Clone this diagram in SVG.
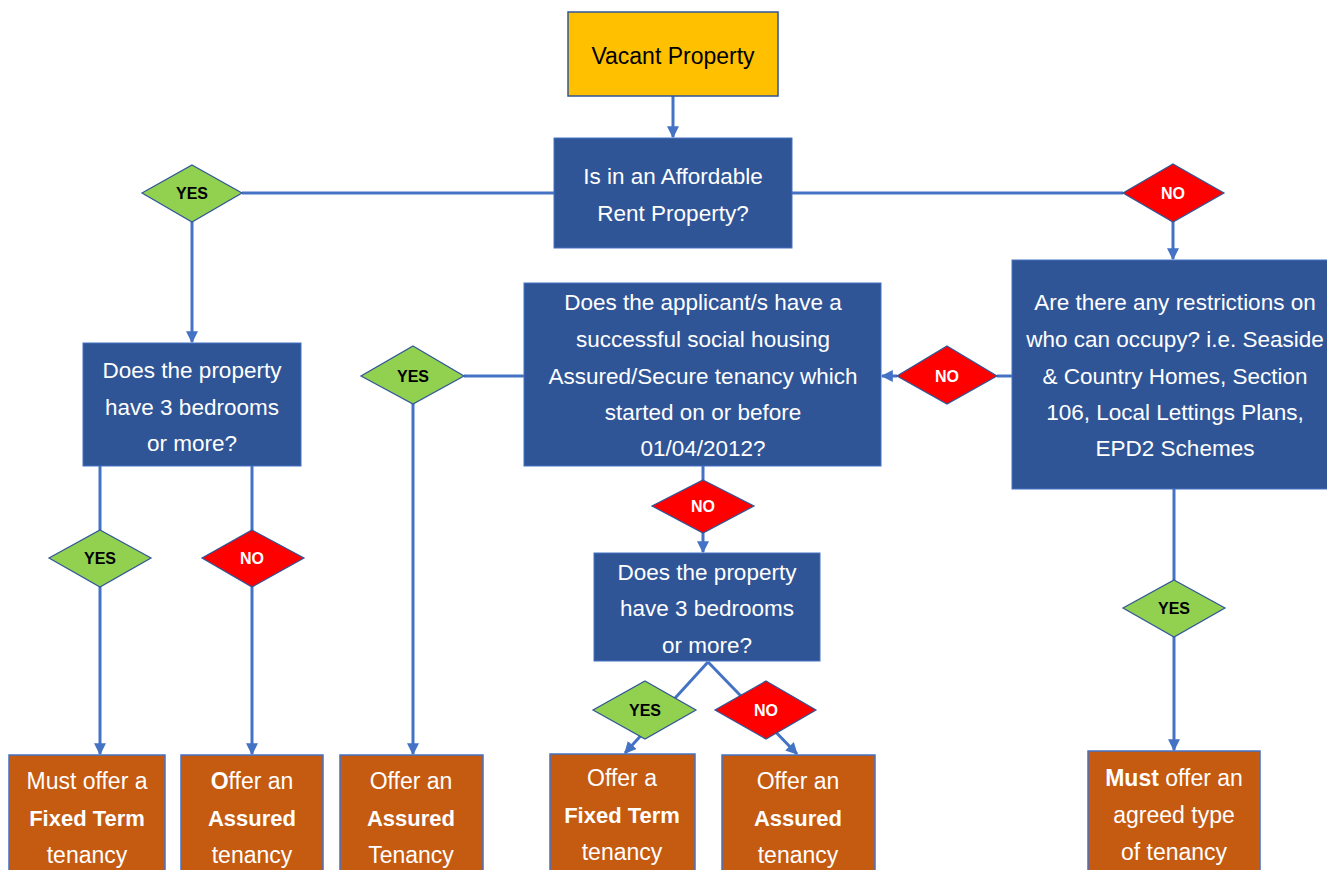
<svg xmlns="http://www.w3.org/2000/svg" width="1327" height="870" viewBox="0 0 1327 870">
<defs>
<marker id="arr" viewBox="0 0 10 10" refX="9" refY="5" markerWidth="4" markerHeight="4" orient="auto" markerUnits="strokeWidth">
<path d="M0,0 L10,5 L0,10 z" fill="#4472C4"/>
</marker>
<style>
.con{stroke:#4472C4;stroke-width:3;fill:none}
.q{fill:#2F5597;stroke:#4472C4;stroke-width:1}
.st{fill:#FFC000;stroke:#2F5597;stroke-width:1.5}
.out{fill:#C55A11;stroke:#4472C4;stroke-width:1.5}
.yes{fill:#92D050;stroke:#2F5597;stroke-width:1.2}
.no{fill:#FF0000;stroke:#2F5597;stroke-width:1.2}
text{font-family:"Liberation Sans",Arial,sans-serif;text-anchor:middle}
.qt{fill:#FFFFFF;font-size:22.5px}
.ot{fill:#FFFFFF;font-size:23px}
.b{font-weight:bold;font-size:22px}
.dy{fill:#000000;font-size:16px;font-weight:bold}
.dn{fill:#FFFFFF;font-size:16px;font-weight:bold}
</style>
</defs>
<rect width="1327" height="870" fill="#FFFFFF"/>

<g id="connectors">
<line class="con" x1="673" y1="96" x2="673" y2="137" marker-end="url(#arr)"/>
<line class="con" x1="554" y1="193" x2="242" y2="193"/>
<line class="con" x1="792" y1="193" x2="1123" y2="193"/>
<line class="con" x1="192" y1="222" x2="192" y2="342" marker-end="url(#arr)"/>
<line class="con" x1="1173" y1="222" x2="1173" y2="259" marker-end="url(#arr)"/>
<line class="con" x1="100" y1="466" x2="100" y2="530"/>
<line class="con" x1="100" y1="587" x2="100" y2="754" marker-end="url(#arr)"/>
<line class="con" x1="252" y1="466" x2="252" y2="530"/>
<line class="con" x1="252" y1="587" x2="252" y2="754" marker-end="url(#arr)"/>
<line class="con" x1="524" y1="376" x2="464" y2="376"/>
<line class="con" x1="413" y1="404" x2="413" y2="754" marker-end="url(#arr)"/>
<line class="con" x1="1012" y1="376" x2="997" y2="376"/>
<line class="con" x1="897" y1="376" x2="882" y2="376" marker-end="url(#arr)"/>
<line class="con" x1="703" y1="466" x2="703" y2="480"/>
<line class="con" x1="703" y1="533" x2="703" y2="552" marker-end="url(#arr)"/>
<line class="con" x1="1174" y1="489" x2="1174" y2="580"/>
<line class="con" x1="1174" y1="637" x2="1174" y2="750" marker-end="url(#arr)"/>
<line class="con" x1="708" y1="662" x2="625" y2="753" marker-end="url(#arr)"/>
<line class="con" x1="708" y1="662" x2="797" y2="754" marker-end="url(#arr)"/>
</g>

<g id="vacant">
<rect class="st" x="568" y="12" width="210" height="84"/>
<text x="673" y="64" style="font-size:23px;fill:#000000">Vacant Property</text>
</g>

<g id="affordable">
<rect class="q" x="554" y="138" width="238" height="110"/>
<text class="qt" x="673" y="184">Is in an Affordable</text>
<text class="qt" x="673" y="221">Rent Property?</text>
</g>

<g id="yes1">
<polygon class="yes" points="192,165 242,193 192,222 142,193"/>
<text class="dy" x="192" y="199">YES</text>
</g>

<g id="no1">
<polygon class="no" points="1173,164 1224,193 1173,222 1123,193"/>
<text class="dn" x="1173" y="199">NO</text>
</g>

<g id="bedrooms1">
<rect class="q" x="83" y="343" width="218" height="123"/>
<text class="qt" x="192" y="378">Does the property</text>
<text class="qt" x="192" y="415">have 3 bedrooms</text>
<text class="qt" x="192" y="451">or more?</text>
</g>

<g id="yes2">
<polygon class="yes" points="100,530 151,558 100,587 49,558"/>
<text class="dy" x="100" y="564">YES</text>
</g>

<g id="no2">
<polygon class="no" points="252,530 304,558 252,587 202,558"/>
<text class="dn" x="252" y="564">NO</text>
</g>

<g id="yes3">
<polygon class="yes" points="413,346 464,376 413,404 361,376"/>
<text class="dy" x="413" y="382">YES</text>
</g>

<g id="applicant">
<rect class="q" x="524" y="283" width="357" height="183"/>
<text class="qt" x="703" y="310">Does the applicant/s have a</text>
<text class="qt" x="703" y="347">successful social housing</text>
<text class="qt" x="703" y="384">Assured/Secure tenancy which</text>
<text class="qt" x="703" y="420">started on or before</text>
<text class="qt" x="703" y="456">01/04/2012?</text>
</g>

<g id="no3">
<polygon class="no" points="947,346 997,376 947,404 897,376"/>
<text class="dn" x="947" y="382">NO</text>
</g>

<g id="restrictions">
<rect class="q" x="1012" y="260" width="326" height="229"/>
<text class="qt" x="1175" y="310">Are there any restrictions on</text>
<text class="qt" x="1175" y="347">who can occupy? i.e. Seaside</text>
<text class="qt" x="1175" y="384">&amp; Country Homes, Section</text>
<text class="qt" x="1175" y="420">106, Local Lettings Plans,</text>
<text class="qt" x="1175" y="456">EPD2 Schemes</text>
</g>

<g id="no4">
<polygon class="no" points="703,480 754,506 703,533 652,506"/>
<text class="dn" x="703" y="512">NO</text>
</g>

<g id="bedrooms2">
<rect class="q" x="594" y="553" width="226" height="108"/>
<text class="qt" x="707" y="580">Does the property</text>
<text class="qt" x="707" y="616">have 3 bedrooms</text>
<text class="qt" x="707" y="653">or more?</text>
</g>

<g id="yes4">
<polygon class="yes" points="645,681 696,710 645,739 593,710"/>
<text class="dy" x="645" y="716">YES</text>
</g>

<g id="no5">
<polygon class="no" points="766,681 816,710 766,739 715,710"/>
<text class="dn" x="766" y="716">NO</text>
</g>

<g id="yes5">
<polygon class="yes" points="1174,580 1225,608 1174,637 1123,608"/>
<text class="dy" x="1174" y="614">YES</text>
</g>

<g id="out1">
<rect class="out" x="9" y="755" width="156" height="130"/>
<text class="ot" x="87" y="789">Must offer a</text>
<text class="ot b" x="87" y="826">Fixed Term</text>
<text class="ot" x="87" y="863">tenancy</text>
</g>

<g id="out2">
<rect class="out" x="181" y="755" width="142" height="130"/>
<text class="ot" x="252" y="789"><tspan class="b" style="font-size:23px">O</tspan>ffer an</text>
<text class="ot b" x="252" y="826">Assured</text>
<text class="ot" x="252" y="863">tenancy</text>
</g>

<g id="out3">
<rect class="out" x="340" y="755" width="143" height="130"/>
<text class="ot" x="411" y="789">Offer an</text>
<text class="ot b" x="411" y="826">Assured</text>
<text class="ot" x="411" y="863">Tenancy</text>
</g>

<g id="out4">
<rect class="out" x="550" y="754" width="145" height="130"/>
<text class="ot" x="622" y="786">Offer a</text>
<text class="ot b" x="622" y="823">Fixed Term</text>
<text class="ot" x="622" y="860">tenancy</text>
</g>

<g id="out5">
<rect class="out" x="722" y="755" width="153" height="130"/>
<text class="ot" x="798" y="789">Offer an</text>
<text class="ot b" x="798" y="826">Assured</text>
<text class="ot" x="798" y="863">tenancy</text>
</g>

<g id="out6">
<rect class="out" x="1088" y="751" width="172" height="130"/>
<text class="ot" x="1174" y="786"><tspan class="b" style="font-size:23px">Must</tspan> offer an</text>
<text class="ot" x="1174" y="823">agreed type</text>
<text class="ot" x="1174" y="860">of tenancy</text>
</g>
</svg>
